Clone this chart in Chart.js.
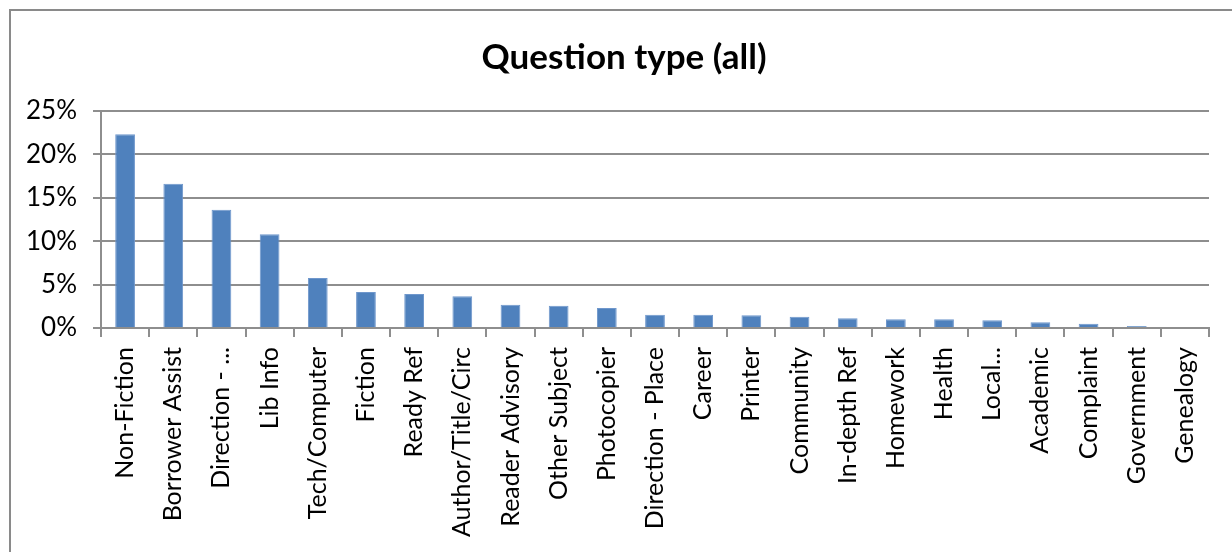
<!DOCTYPE html>
<html>
<head>
<meta charset="utf-8">
<script src="https://cdn.jsdelivr.net/npm/chart.js@4/dist/chart.umd.min.js"></script>
<style>
    html, body { margin: 0; padding: 0; background: #fff; }
    #wrap { width: 1232px; height: 552px; position: relative; }
</style>
</head>
<body>
<div id="wrap"><canvas id="chart" width="1232" height="552"></canvas></div>
<script>
const categories = [
    'Non-Fiction', 'Borrower Assist', 'Direction - ...', 'Lib Info', 'Tech/Computer',
    'Fiction', 'Ready Ref', 'Author/Title/Circ', 'Reader Advisory', 'Other Subject',
    'Photocopier', 'Direction - Place', 'Career', 'Printer', 'Community',
    'In-depth Ref', 'Homework', 'Health', 'Local...', 'Academic',
    'Complaint', 'Government', 'Genealogy'
];
const shares = [
    22.3, 16.6, 13.6, 10.8, 5.75,
    4.15, 3.92, 3.65, 2.68, 2.57,
    2.3, 1.53, 1.53, 1.46, 1.3,
    1.12, 1.0, 1.0, 0.9, 0.65,
    0.5, 0.22, 0
];
const yTicks = [0, 5, 10, 15, 20, 25];
const chartTitle = 'Question type (all)';

const barColor = '#4F81BD';
const gridColor = '#8E8E8E';
const fontFamily = 'Lato, "Open Sans", sans-serif';

// outer frame of the chart object (left and top edges visible)
const framePlugin = {
    id: 'frame',
    beforeDraw(chart) {
        const ctx = chart.ctx;
        ctx.save();
        ctx.fillStyle = '#fff';
        ctx.fillRect(0, 0, chart.width, chart.height);
        ctx.strokeStyle = '#8A8A8A';
        ctx.lineWidth = 2;
        ctx.beginPath();
        ctx.moveTo(10, chart.height);
        ctx.lineTo(10, 10);
        ctx.lineTo(chart.width, 10);
        ctx.stroke();
        ctx.restore();
    }
};

// the title is centred on the whole chart object, which runs past the right edge
const titlePlugin = {
    id: 'centredTitle',
    afterDraw(chart) {
        const ctx = chart.ctx;
        ctx.save();
        ctx.fillStyle = '#000';
        ctx.font = 'bold 35px ' + fontFamily;
        ctx.textAlign = 'center';
        ctx.textBaseline = 'middle';
        ctx.fillText(chartTitle, 624, 58);
        ctx.restore();
    }
};

const ctx = document.getElementById('chart').getContext('2d');
new Chart(ctx, {
    type: 'bar',
    data: {
        labels: categories,
        datasets: [{
            label: 'Question type',
            data: shares,
            backgroundColor: barColor,
            borderColor: '#6F97CC',
            borderWidth: { top: 1, left: 1, right: 1, bottom: 0 },
            categoryPercentage: 1,
            barPercentage: 0.41,
        }],
    },
    options: {
        responsive: false,
        animation: false,
        layout: { padding: { left: 0, right: 23, top: 10, bottom: 0 } },
        plugins: {
            legend: { display: false },
            tooltip: { enabled: false },
            title: {
                display: true,
                text: chartTitle,
                color: 'rgba(0,0,0,0)',
                font: { family: fontFamily, size: 34, weight: 'bold' },
                padding: { top: 28, bottom: 32 },
            },
        },
        scales: {
            x: {
                afterFit(scale) { scale.height = 224; },
                grid: {
                    offset: true,
                    drawOnChartArea: false,
                    drawTicks: true,
                    tickLength: 9,
                    color: gridColor,
                    lineWidth: 2,
                },
                border: { color: gridColor, width: 2 },
                ticks: {
                    color: '#000',
                    font: { family: fontFamily, size: 25 },
                    minRotation: 90,
                    maxRotation: 90,
                    autoSkip: false,
                    padding: 10,
                },
            },
            y: {
                min: 0,
                max: 25,
                afterFit(scale) { scale.width = 101; },
                afterBuildTicks(scale) { scale.ticks = yTicks.map(v => ({ value: v })); },
                grid: {
                    color: gridColor,
                    lineWidth: 2,
                    drawTicks: true,
                    tickLength: 8,
                },
                border: { color: gridColor, width: 2 },
                ticks: {
                    color: '#000',
                    font: { family: fontFamily, size: 26 },
                    padding: 16,
                    callback: v => v + '%',
                },
            },
        },
    },
    plugins: [framePlugin, titlePlugin],
});
</script>
</body>
</html>
